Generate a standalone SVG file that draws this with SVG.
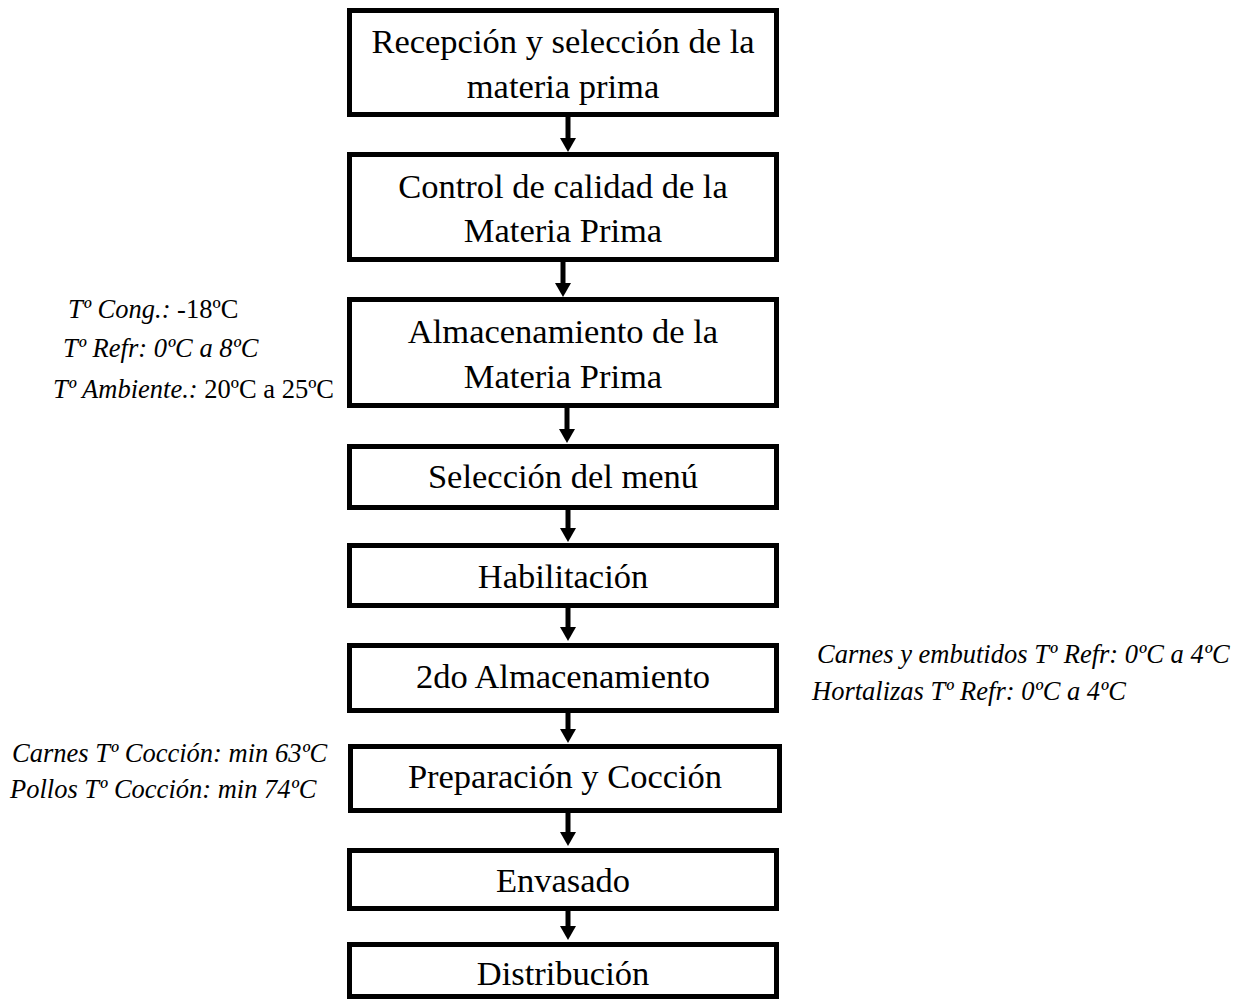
<svg xmlns="http://www.w3.org/2000/svg" width="1246" height="1000" viewBox="0 0 1246 1000">
<style>
.box{fill:#fff;stroke:#000;stroke-width:5}
.bt{font-family:"Liberation Serif","Times New Roman",serif;font-size:34.5px;fill:#000;text-anchor:middle}
.an{font-family:"Liberation Serif","Times New Roman",serif;font-size:26.5px;fill:#000}
.it{font-style:italic}
.conn{stroke:#000;stroke-width:5;fill:none;marker-end:url(#ah)}
</style>
<defs>
<marker id="ah" markerUnits="userSpaceOnUse" markerWidth="14" markerHeight="16" viewBox="0 0 14 16" refX="4" refY="8" orient="auto">
<path d="M0,0 L14,8 L0,16 z" fill="#000"/>
</marker>
</defs>
<rect width="1246" height="1000" fill="#fff"/>
<g id="connectors">
<line class="conn" x1="568" y1="117" x2="568" y2="142"/>
<line class="conn" x1="563" y1="262" x2="563" y2="287"/>
<line class="conn" x1="567" y1="408" x2="567" y2="433"/>
<line class="conn" x1="568" y1="510" x2="568" y2="532"/>
<line class="conn" x1="568" y1="608" x2="568" y2="631"/>
<line class="conn" x1="568" y1="713" x2="568" y2="733"/>
<line class="conn" x1="568" y1="813" x2="568" y2="836"/>
<line class="conn" x1="568" y1="903" x2="568" y2="930"/>
</g>
<g id="n1"><rect class="box" x="349.5" y="10.5" width="427" height="104"/>
<text class="bt" x="563" y="53">Recepción y selección de la</text>
<text class="bt" x="563" y="98">materia prima</text></g>
<g id="n2"><rect class="box" x="349.5" y="154.5" width="427" height="105"/>
<text class="bt" x="563" y="198">Control de calidad de la</text>
<text class="bt" x="563" y="242">Materia Prima</text></g>
<g id="n3"><rect class="box" x="349.5" y="299.5" width="427" height="106"/>
<text class="bt" x="563" y="343">Almacenamiento de la</text>
<text class="bt" x="563" y="388">Materia Prima</text></g>
<g id="n4"><rect class="box" x="349.5" y="446.5" width="427" height="61"/>
<text class="bt" x="563" y="488">Selección del menú</text></g>
<g id="n5"><rect class="box" x="349.5" y="545.5" width="427" height="60"/>
<text class="bt" x="563" y="588">Habilitación</text></g>
<g id="n6"><rect class="box" x="349.5" y="645.5" width="427" height="65"/>
<text class="bt" x="563" y="688">2do Almacenamiento</text></g>
<g id="n7"><rect class="box" x="350.5" y="746.5" width="429" height="64"/>
<text class="bt" x="565" y="788">Preparación y Cocción</text></g>
<g id="n8"><rect class="box" x="349.5" y="850.5" width="427" height="58"/>
<text class="bt" x="563" y="892">Envasado</text></g>
<g id="n9"><rect class="box" x="349.5" y="944.5" width="427" height="52"/>
<text class="bt" x="563" y="985">Distribución</text></g>
<g id="ann-almacen">
<text class="an" x="68" y="318"><tspan class="it">Tº Cong.:</tspan> -18ºC</text>
<text class="an it" x="63" y="357">Tº Refr: 0ºC a 8ºC</text>
<text class="an" x="53" y="398"><tspan class="it">Tº Ambiente.:</tspan> 20ºC a 25ºC</text>
</g>
<g id="ann-2do">
<text class="an it" x="817" y="663">Carnes y embutidos Tº Refr: 0ºC a 4ºC</text>
<text class="an it" x="812" y="700">Hortalizas Tº Refr: 0ºC a 4ºC</text>
</g>
<g id="ann-coccion">
<text class="an it" x="12" y="762">Carnes Tº Cocción: min 63ºC</text>
<text class="an it" x="10" y="798">Pollos Tº Cocción: min 74ºC</text>
</g>
</svg>
